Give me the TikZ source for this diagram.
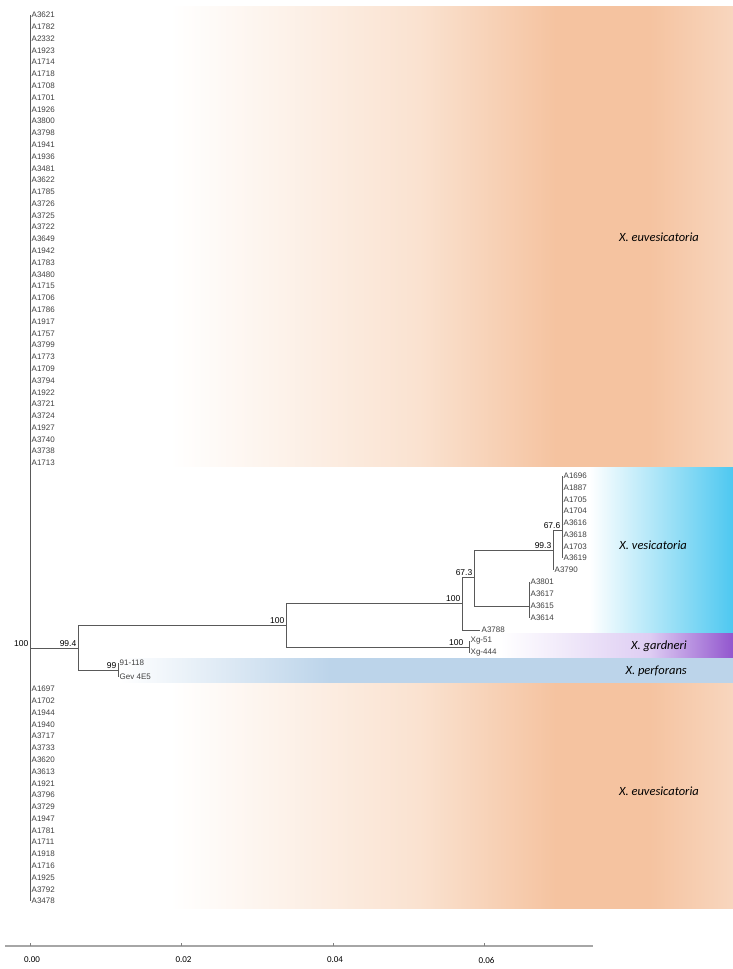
\documentclass[tikz,border=0pt]{standalone}
\usepackage{fontspec}
\setmainfont{Liberation Sans}
\newfontfamily\calib{Carlito}
\definecolor{euvor}{RGB}{245,195,160}
\definecolor{euvmid}{RGB}{250,226,208}
\definecolor{euvlt}{RGB}{248,214,190}
\definecolor{vescy}{RGB}{78,200,240}
\definecolor{garlt}{RGB}{222,205,243}
\definecolor{garpu}{RGB}{146,86,206}
\definecolor{perbl}{RGB}{188,212,234}
\pgfdeclarehorizontalshading{euvgrad}{100bp}{color(0bp)=(white); color(36.6bp)=(white); color(53.6bp)=(euvmid); color(62.9bp)=(euvor); color(69.3bp)=(euvor); color(75bp)=(euvlt); color(100bp)=(euvlt)}
\pgfdeclarehorizontalshading{vesgrad}{100bp}{color(0bp)=(white); color(65.2bp)=(white); color(75bp)=(vescy); color(100bp)=(vescy)}
\pgfdeclarehorizontalshading{gargrad}{100bp}{color(0bp)=(white); color(59.1bp)=(white); color(69.3bp)=(garlt); color(75bp)=(garpu); color(100bp)=(garpu)}
\pgfdeclarehorizontalshading{pergrad}{100bp}{color(0bp)=(white); color(33.2bp)=(white); color(47.5bp)=(perbl); color(100bp)=(perbl)}
\begin{document}
\begin{tikzpicture}[x=1pt,y=-1pt,
  br/.style={black!65,line width=0.8pt},
  leaf/.style={font=\fontsize{8}{8}\selectfont,text=black!75,anchor=west,inner sep=1.5pt},
  boot/.style={font=\fontsize{8.5}{8}\selectfont,anchor=south east,inner sep=1.5pt},
  clade/.style={font=\calib\itshape\fontsize{12.5}{13}\selectfont,anchor=east,inner sep=0pt}]
\useasboundingbox (0,0) rectangle (733,969);
% coloured bands
\shade[shading=euvgrad] (0,6) rectangle (733,467);
\shade[shading=vesgrad] (0,467) rectangle (733,633);
\shade[shading=gargrad] (0,633) rectangle (733,658);
\shade[shading=pergrad] (0,658.5) rectangle (733,683);
\shade[shading=euvgrad] (0,683) rectangle (733,908);
\node[clade] (euv1) at (699,237) {X. euvesicatoria};
\node[clade] (euv2) at (699,791) {X. euvesicatoria};
\node[clade] (ves) at (687,545) {X. vesicatoria};
\node[clade] (gar) at (687,646) {X. gardneri};
\node[clade] (per) at (687,671) {X. perforans};
% tree
\coordinate (root) at (30,648);
\coordinate (n994) at (78,648);
\coordinate (n100a) at (286,625);
\coordinate (n100b) at (462,603);
\coordinate (n673) at (474,577);
\coordinate (n993) at (553,550);
\coordinate (n676) at (562,530);
\coordinate (nA38) at (529,606);
\coordinate (nxg) at (469,647);
\coordinate (npf) at (118,670);
\foreach \t [count=\i from 0] in {A3621,A1782,A2332,A1923,A1714,A1718,A1708,A1701,A1926,A3800,A3798,A1941,A1936,A3481,A3622,A1785,A3726,A3725,A3722,A3649,A1942,A1783,A3480,A1715,A1706,A1786,A1917,A1757,A3799,A1773,A1709,A3794,A1922,A3721,A3724,A1927,A3740,A3738,A1713}
  {\node[leaf] (e\i) at (30,{15+11.79*\i}) {\t};
   \draw[br] (root) |- (e\i.west);}
\foreach \t [count=\i from 0] in {A1697,A1702,A1944,A1940,A3717,A3733,A3620,A3613,A1921,A3796,A3729,A1947,A1781,A1711,A1918,A1716,A1925,A3792,A3478}
  {\node[leaf] (b\i) at (30,{689+11.78*\i}) {\t};
   \draw[br] (root) |- (b\i.west);}
\foreach \t [count=\i from 0] in {A1696,A1887,A1705,A1704,A3616,A3618,A1703,A3619}
  {\node[leaf] (v\i) at (562,{476+11.71*\i}) {\t};
   \draw[br] (n676) |- (v\i.west);}
\foreach \t [count=\i from 0] in {A3801,A3617,A3615,A3614}
  {\node[leaf] (w\i) at (529,{582+12*\i}) {\t};
   \draw[br] (nA38) |- (w\i.west);}
\node[leaf] (a3790) at (553,570) {A3790};
\node[leaf] (a3788) at (480,630) {A3788};
\node[leaf] (xg51) at (469,641) {Xg-51};
\node[leaf] (xg444) at (469,653) {Xg-444};
\node[leaf] (p91) at (118,663) {91-118};
\node[leaf] (gev) at (118,677) {Gev 4E5};
\draw[br] (root) -- (n994);
\draw[br] (n994) |- (n100a);
\draw[br] (n994) |- (npf);
\draw[br] (n100a) |- (n100b);
\draw[br] (n100a) |- (nxg);
\draw[br] (n100b) |- (n673);
\draw[br] (n100b) |- (a3788.west);
\draw[br] (n673) |- (n993);
\draw[br] (n673) |- (nA38);
\draw[br] (n993) |- (n676);
\draw[br] (n993) |- (a3790.west);
\draw[br] (nxg) |- (xg51.west);
\draw[br] (nxg) |- (xg444.west);
\draw[br] (npf) |- (p91.west);
\draw[br] (npf) |- (gev.west);
% support values
\node[boot] at (root) {100};
\node[boot] at (n994) {99.4};
\node[boot] at (n100a) {100};
\node[boot] at (n100b) {100};
\node[boot] at (n673) {67.3};
\node[boot] at (n993) {99.3};
\node[boot] at (n676) {67.6};
\node[boot,xshift=-4pt] at (nxg) {100};
\node[boot] at (npf) {99};
% scale axis
\draw[black!35,line width=1.2pt] (5,946) -- (593,946);
\foreach \x/\l in {30/0.00,181.5/0.02,333/0.04,484.5/0.06}
  {\draw[black!50] (\x,943) -- (\x,946);
   \node[font=\calib\fontsize{9}{9}\selectfont] at (\x+2,960) {\l};}
\end{tikzpicture}
\end{document}
